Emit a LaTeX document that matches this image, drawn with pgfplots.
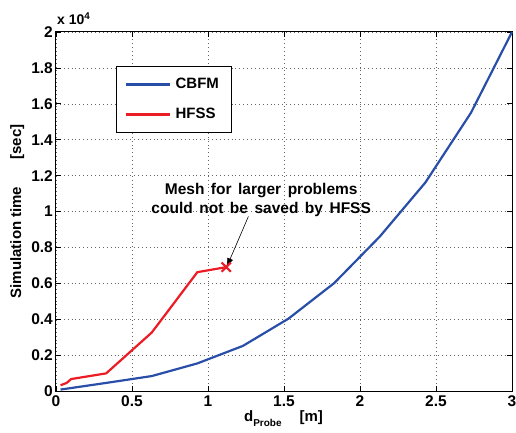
\documentclass[border=0pt]{standalone}
\usepackage{pgfplots}
\pgfplotsset{compat=1.18}
\usepackage{fontspec}
\setmainfont{Liberation Sans}
\usetikzlibrary{arrows.meta}
\definecolor{cbfm}{RGB}{40,78,168}
\definecolor{hfss}{RGB}{236,28,36}
\begin{document}
\begin{tikzpicture}
\useasboundingbox (-56pt,-42pt) rectangle (460pt,391pt);
\begin{axis}[
  at={(0,0)}, anchor=south west,
  scale only axis, width=456pt, height=359pt,
  clip=false,
  xmin=0, xmax=3, ymin=0, ymax=20000,
  xtick={0,0.5,1,1.5,2,2.5,3},
  xticklabels={0,0.5,1,1.5,2,2.5,3},
  ytick={0,2000,4000,6000,8000,10000,12000,14000,16000,18000,20000},
  yticklabels={0,0.2,0.4,0.6,0.8,1,1.2,1.4,1.6,1.8,2},
  scaled ticks=false,
  tick align=inside, major tick length=5pt,
  xtick pos=both, ytick pos=both,
  tick style={black, line width=0.6pt},
  axis line style={line width=1pt},
  grid=major,
  major grid style={black!60, line width=0.5pt, dash pattern=on 0.7pt off 3.2pt},
  ticklabel style={font=\fontsize{15.5}{15.5}\selectfont\bfseries},
  xticklabel style={yshift=-1pt},
  yticklabel style={xshift=0pt, inner sep=3pt},
  label style={font=\fontsize{15}{15}\selectfont\bfseries},
  xlabel={d\raisebox{-5pt}{\fontsize{10}{10}\selectfont Probe}\hspace{1.2em}[m]},
  ylabel={Simulation time\hspace{1.8em}[sec]},
  xlabel style={at={(axis description cs:0.499,-0.078)}, anchor=center},
  ylabel style={at={(axis description cs:-0.085,0.5)}, anchor=center},
  legend style={at={(axis description cs:0.1316,0.905)}, anchor=north west,
    draw=black, line width=0.8pt, fill=white,
    inner xsep=8pt, inner ysep=12pt, row sep=18pt, column sep=5pt,
    nodes={inner sep=0pt},
    font=\fontsize{15}{15}\selectfont\bfseries},
  legend cell align=left,
  legend image code/.code={\draw[#1] (0pt,0pt) -- (44pt,0pt);},
]
\addplot[cbfm, line width=2.2pt] coordinates {
  (0.03,80) (0.33,450) (0.63,832) (0.93,1537) (1.23,2514) (1.53,4034)
  (1.83,6010) (2.13,8601) (2.43,11614) (2.73,15500) (3.0,20000)};
\addlegendentry{\makebox[48pt][l]{CBFM}}
\addplot[hfss, line width=2.2pt] coordinates {
  (0.03,320) (0.07,450) (0.10,666) (0.33,982) (0.63,3257) (0.93,6620) (1.12,6900)};
\addlegendentry{\makebox[48pt][l]{HFSS}}
\addplot[hfss, only marks, mark=x, mark size=6.5pt, line width=2pt, forget plot]
  coordinates {(1.12,6900)};
\node[align=center, font=\fontsize{15.5}{19.5}\selectfont\bfseries]
  at (axis cs:1.35,10640) {\spaceskip=0.42em\relax Mesh for larger problems\\\spaceskip=0.42em\relax could not be saved by HFSS};
\draw[-{Latex[length=10pt,width=6pt]}, line width=0.6pt]
  (axis cs:1.266,9728) -- (axis cs:1.12,6850);
\node[anchor=base west, inner sep=0pt, font=\fontsize{14}{14}\selectfont\bfseries]
  at ([xshift=1pt,yshift=7pt]rel axis cs:0,1) {x 10\textsuperscript{4}};
\end{axis}
\end{tikzpicture}
\end{document}
